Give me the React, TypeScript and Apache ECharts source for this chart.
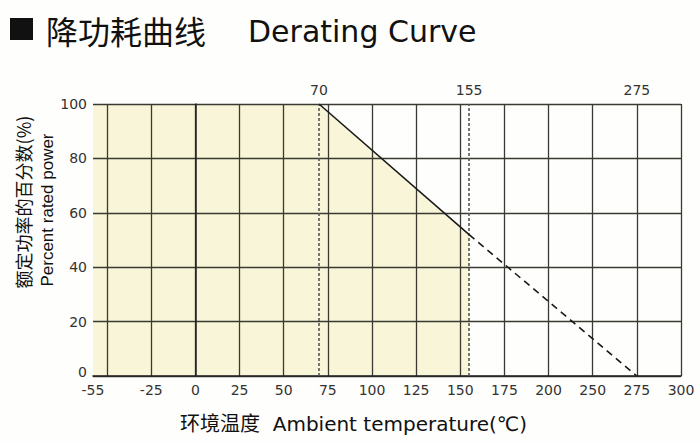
import React, { useEffect, useRef } from 'react';
import * as echarts from 'echarts';

// ---- data ----
const xTickLabels = ['-55', '-25', '0', '25', '50', '75', '100', '125', '150', '175', '200', '250', '275', '300'];
const yTickValues = [0, 20, 40, 60, 80, 100];
const curveTemps = [70, 155, 275];
const curvePower = [100, 52, 0];
const markTemps = [70, 155];
const topLabels = [70, 155, 275];
const shadeEndTemp = 155;

// ---- axis geometry (scale units) ----
const X_MIN = -58;
const X_MAX = 275;
const X_STEP = 25;
const X_FIRST_GRID = -50;

const labelPositions = xTickLabels.map((_, i) => (i === 0 ? X_MIN : -25 + (i - 1) * X_STEP));
const gridValues: number[] = [];
for (let v = X_FIRST_GRID; v <= X_MAX; v += X_STEP) gridValues.push(v);

function toAxis(t: number): number {
  const vals = xTickLabels.map(Number);
  for (let i = 0; i < vals.length - 1; i++) {
    if (t >= vals[i] && t <= vals[i + 1]) {
      const f = (t - vals[i]) / (vals[i + 1] - vals[i]);
      return labelPositions[i] + f * (labelPositions[i + 1] - labelPositions[i]);
    }
  }
  return t;
}

const LAT = '"DejaVu Sans", "Noto Sans CJK SC", sans-serif';
const CJK = '"Noto Sans CJK SC", sans-serif';
const ARIAL = '"Liberation Sans", Arial, sans-serif';

export default function App() {
  const ref = useRef<HTMLDivElement>(null);
  useEffect(() => {
    if (!ref.current) return;
    const chart = echarts.init(ref.current, null, { renderer: 'svg' });

    const curvePts = curveTemps.map((t, i) => [toAxis(t), curvePower[i]]);
    const splitIdx = curveTemps.indexOf(shadeEndTemp);
    const solidPts = curvePts.slice(0, splitIdx + 1);
    const dashedPts = curvePts.slice(splitIdx);
    const fillPts = [[X_MIN, curvePower[0]], ...solidPts, [toAxis(shadeEndTemp), 0]];

    const axisLineColor = '#222';
    const gridColor = '#3a3a32';

    chart.setOption({
      animation: false,
      backgroundColor: '#fefefc',
      grid: { left: 93, right: 19, top: 104, bottom: 67 },
      xAxis: [
        {
          type: 'value',
          min: X_MIN,
          max: X_MAX,
          z: 3,
          axisLine: { show: true, onZero: false, lineStyle: { color: axisLineColor, width: 1.5 } },
          axisTick: { show: false, customValues: gridValues },
          splitLine: { show: true, lineStyle: { color: gridColor, width: 1.3 } },
          axisLabel: {
            customValues: labelPositions,
            margin: 7,
            color: '#333',
            fontSize: 14,
            fontFamily: LAT,
            formatter: (v: number) => {
              const i = labelPositions.findIndex((p) => Math.abs(p - v) < 0.01);
              return i >= 0 ? xTickLabels[i] : '';
            },
          },
        },
        {
          type: 'value',
          position: 'top',
          min: X_MIN,
          max: X_MAX,
          z: 3,
          axisLine: { show: false },
          axisTick: { show: false },
          splitLine: { show: false },
          axisLabel: {
            customValues: topLabels.map(toAxis),
            margin: 7,
            color: '#333',
            fontSize: 14,
            fontFamily: LAT,
            formatter: (v: number) => {
              const t = topLabels.find((x) => Math.abs(toAxis(x) - v) < 0.01);
              return t !== undefined ? String(t) : '';
            },
          },
        },
      ],
      yAxis: {
        type: 'value',
        min: yTickValues[0],
        max: yTickValues[yTickValues.length - 1],
        interval: 20,
        z: 3,
        axisLine: { show: true, lineStyle: { color: axisLineColor, width: 1.5 } },
        axisTick: { show: false },
        splitLine: { show: true, lineStyle: { color: gridColor, width: 1.3 } },
        axisLabel: {
          margin: 6,
          color: '#333',
          fontSize: 14,
          fontFamily: LAT,
          formatter: (v: number) => (v === yTickValues[0] ? `{low|${v}}` : String(v)),
          rich: {
            low: { color: '#333', fontSize: 14, fontFamily: LAT, padding: [0, 0, 8, 0] },
          },
        },
      },
      series: [
        {
          type: 'line',
          z: 1,
          silent: true,
          data: fillPts,
          showSymbol: false,
          symbol: 'none',
          lineStyle: { width: 0, opacity: 0 },
          areaStyle: { color: '#f8f5d9', opacity: 1 },
        },
        {
          type: 'line',
          z: 5,
          data: solidPts,
          symbol: 'none',
          lineStyle: { color: '#1a1a1a', width: 1.6 },
          markLine: {
            silent: true,
            symbol: ['none', 'none'],
            label: { show: false },
            lineStyle: { color: '#555', width: 1.6, type: [3, 2] },
            data: markTemps.map((t) => ({ xAxis: toAxis(t) })),
          },
        },
        {
          type: 'line',
          z: 5,
          data: dashedPts,
          symbol: 'none',
          lineStyle: { color: '#1a1a1a', width: 1.6, type: [7, 5] },
        },
      ],
      graphic: [
        { type: 'rect', shape: { x: 10, y: 18, width: 23, height: 22 }, style: { fill: '#111' } },
        {
          type: 'text',
          x: 46,
          y: 30,
          style: { text: '降功耗曲线', font: `32px ${CJK}`, fill: '#111', textVerticalAlign: 'middle' },
        },
        {
          type: 'text',
          x: 248,
          y: 31,
          style: { text: 'Derating Curve', font: `30px ${LAT}`, fill: '#111', textVerticalAlign: 'middle' },
        },
        {
          type: 'text',
          x: 180,
          y: 424,
          style: {
            text: '环境温度  Ambient temperature(℃)',
            font: `20px ${LAT}`,
            fill: '#111',
            textVerticalAlign: 'middle',
          },
        },
        {
          type: 'text',
          x: 23,
          y: 202,
          rotation: Math.PI / 2,
          style: {
            text: '额定功率的百分数(%)',
            font: `18px ${CJK}`,
            fill: '#111',
            textAlign: 'center',
            textVerticalAlign: 'middle',
          },
        },
        {
          type: 'text',
          x: 47,
          y: 210,
          rotation: Math.PI / 2,
          style: {
            text: 'Percent rated power',
            font: `17px ${ARIAL}`,
            fill: '#111',
            textAlign: 'center',
            textVerticalAlign: 'middle',
          },
        },
      ],
    });
    return () => chart.dispose();
  }, []);
  return <div ref={ref} style={{ position: 'absolute', left: 0, top: 0, width: 700, height: 443 }} />;
}
